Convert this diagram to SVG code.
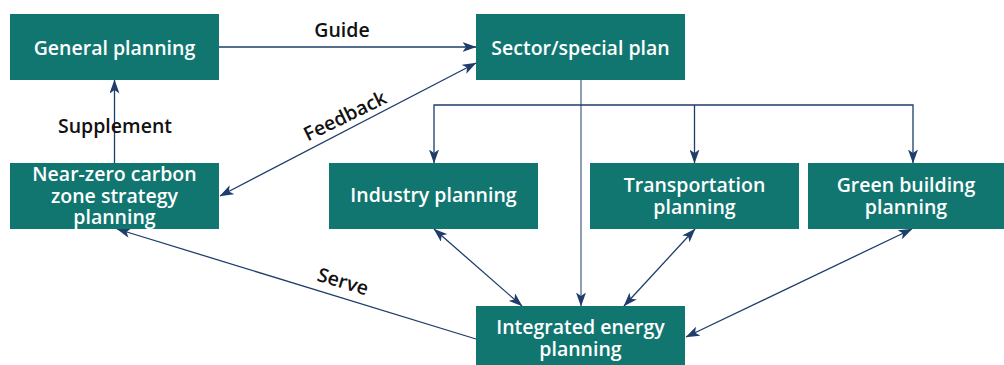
<svg xmlns="http://www.w3.org/2000/svg" width="1004" height="365" viewBox="0 0 1004 365">
  <style>
    .box { fill: #117670; }
    .node-text { font-family: "Open Sans", "Liberation Sans", sans-serif; font-weight: 600; font-size: 19.5px; fill: #ffffff; text-anchor: middle; }
    .label { font-family: "Open Sans", "Liberation Sans", sans-serif; font-weight: 600; font-size: 19.5px; fill: #111111; text-anchor: middle; }
    .link { fill: none; stroke: #1e3d6b; stroke-width: 1.3; }
    .trunk { fill: none; stroke: #1e3d6b; stroke-width: 1; }
  </style>
  <defs>
    <marker id="arrow" viewBox="0 0 14 10" markerWidth="14" markerHeight="10" refX="13.5" refY="5" orient="auto-start-reverse" markerUnits="userSpaceOnUse">
      <path d="M0,0 L14,5 L0,10 L3.5,5 Z" fill="#1e3d6b"/>
    </marker>
  </defs>

  <rect width="1004" height="365" fill="#ffffff"/>

  <!-- connectors -->
  <g id="connectors">
    <!-- General planning guides the sector/special plan -->
    <line class="link" x1="219" y1="47" x2="476" y2="47" marker-end="url(#arrow)"/>
    <!-- Near-zero carbon planning supplements general planning -->
    <line class="link" x1="114.5" y1="163" x2="114.5" y2="80" marker-end="url(#arrow)"/>
    <!-- Feedback between near-zero carbon planning and sector plan -->
    <line class="link" x1="220" y1="196" x2="476" y2="63" marker-start="url(#arrow)" marker-end="url(#arrow)"/>
    <!-- Sector plan branches to the three sector plans -->
    <path class="link" d="M434,163 V105 H913 V163" marker-start="url(#arrow)" marker-end="url(#arrow)"/>
    <line class="link" x1="694.5" y1="105" x2="694.5" y2="163" marker-end="url(#arrow)"/>
    <!-- Sector plan down to integrated energy planning -->
    <line class="trunk" x1="581" y1="80" x2="581" y2="306" marker-end="url(#arrow)"/>
    <!-- Sector plans exchange with integrated energy planning -->
    <line class="link" x1="434" y1="229" x2="522" y2="306" marker-start="url(#arrow)" marker-end="url(#arrow)"/>
    <line class="link" x1="695" y1="229" x2="624" y2="306" marker-start="url(#arrow)" marker-end="url(#arrow)"/>
    <line class="link" x1="912" y1="229" x2="686" y2="337" marker-start="url(#arrow)" marker-end="url(#arrow)"/>
    <!-- Integrated energy planning serves near-zero carbon planning -->
    <line class="link" x1="476" y1="339" x2="117" y2="229" marker-end="url(#arrow)"/>

    <text class="label" x="342" y="37">Guide</text>
    <text class="label" x="115" y="133">Supplement</text>
    <text class="label" x="348" y="122" transform="rotate(-26 348 122)">Feedback</text>
    <text class="label" x="341" y="288" transform="rotate(17 341 288)">Serve</text>
  </g>

  <g id="general-planning">
    <rect class="box" x="10" y="14" width="209" height="66"/>
    <text class="node-text" x="114.5" y="55">General planning</text>
  </g>

  <g id="sector-plan">
    <rect class="box" x="476" y="14" width="209" height="66"/>
    <text class="node-text" x="580.5" y="55">Sector/special plan</text>
  </g>

  <g id="near-zero-carbon">
    <rect class="box" x="10" y="163" width="209" height="66"/>
    <text class="node-text" x="114.5" y="181">Near-zero carbon</text>
    <text class="node-text" x="114.5" y="202.5">zone strategy</text>
    <text class="node-text" x="114.5" y="224">planning</text>
  </g>

  <g id="industry-planning">
    <rect class="box" x="329" y="163" width="209" height="66"/>
    <text class="node-text" x="433.5" y="202">Industry planning</text>
  </g>

  <g id="transportation-planning">
    <rect class="box" x="590" y="163" width="209" height="66"/>
    <text class="node-text" x="694.5" y="192">Transportation</text>
    <text class="node-text" x="694.5" y="213.5">planning</text>
  </g>

  <g id="green-building-planning">
    <rect class="box" x="808" y="163" width="196" height="66"/>
    <text class="node-text" x="906" y="192">Green building</text>
    <text class="node-text" x="906" y="213.5">planning</text>
  </g>

  <g id="integrated-energy-planning">
    <rect class="box" x="476" y="306" width="209" height="66"/>
    <text class="node-text" x="580.5" y="334">Integrated energy</text>
    <text class="node-text" x="580.5" y="355.5">planning</text>
  </g>
</svg>
